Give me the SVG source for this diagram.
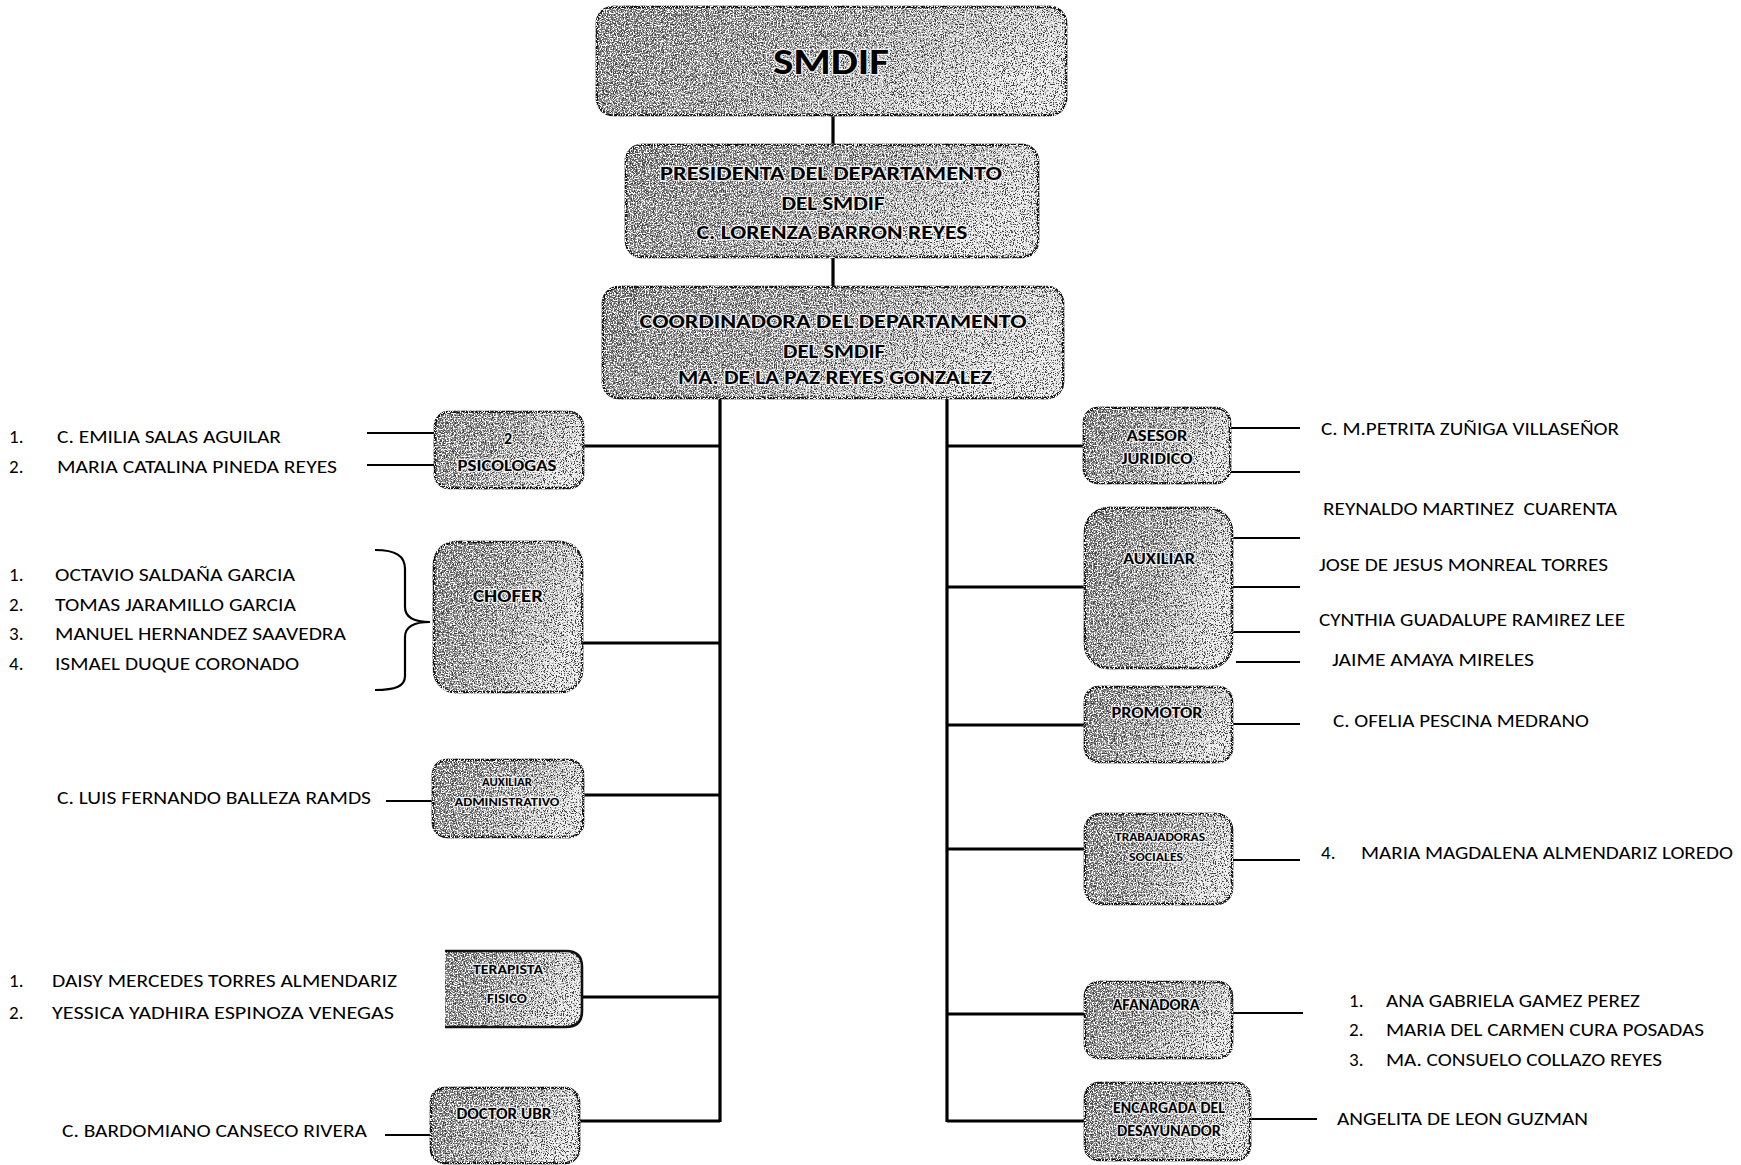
<svg xmlns="http://www.w3.org/2000/svg" width="1741" height="1165" viewBox="0 0 1741 1165">
<style>
.box{fill:url(#shade);stroke:#111;stroke-width:2.6;filter:url(#grain)}
.edge{fill:none;stroke:#111;stroke-width:2.6}
.lbl{font-family:Carlito,Lato,"Liberation Sans",sans-serif;font-weight:bold;fill:#000;text-anchor:middle;stroke:#fff;stroke-width:2.6;stroke-opacity:0.8;paint-order:stroke;stroke-linejoin:round}
.item{font-family:Carlito,Lato,"Liberation Sans",sans-serif;font-size:19px;fill:#000}
.main{stroke:#000;stroke-width:3.2;fill:none}
.sub{stroke:#000;stroke-width:2.2;fill:none}
</style>
<defs>
<linearGradient id="shade" x1="0" y1="0" x2="1" y2="0.35">
<stop offset="0" stop-color="#7c7c7c"/>
<stop offset="0.55" stop-color="#a2a2a2"/>
<stop offset="1" stop-color="#e4e4e4"/>
</linearGradient>
<filter id="grain" x="-2%" y="-2%" width="104%" height="104%">
<feTurbulence type="fractalNoise" baseFrequency="0.9" numOctaves="1" seed="4" result="n"/>
<feColorMatrix in="n" type="matrix" values="0 0 0 0 0.05  0 0 0 0 0.05  0 0 0 0 0.05  16 0 0 0 -8.2" result="d"/>
<feComposite in="d" in2="SourceAlpha" operator="in" result="di"/>
<feTurbulence type="fractalNoise" baseFrequency="0.75" numOctaves="1" seed="11" result="n2"/>
<feColorMatrix in="n2" type="matrix" values="0 0 0 0 1  0 0 0 0 1  0 0 0 0 1  0 16 0 0 -8.4" result="w"/>
<feComposite in="w" in2="SourceAlpha" operator="in" result="wi"/>
<feMerge><feMergeNode in="SourceGraphic"/><feMergeNode in="di"/><feMergeNode in="wi"/></feMerge>
</filter>
</defs>
<rect width="1741" height="1165" fill="#fff"/>

<g id="connectors">
<path class="main" d="M833,115 V145 M833,257 V287"/>
<path class="main" d="M720,398 V1122 M947,398 V1122"/>
<path class="main" d="M583,446 H720 M582,643 H720 M583,795 H720 M582,997 H720 M579,1121 H720"/>
<path class="main" d="M947,446 H1084 M947,587 H1085 M947,725 H1085 M947,849 H1085 M947,1014 H1085 M947,1121 H1085"/>
<path class="sub" d="M367,433 H435 M367,465 H435 M386,801 H432 M385,1135 H431"/>
<path class="sub" d="M1230,428 H1300 M1230,472 H1300 M1232,538 H1300 M1232,587 H1300 M1232,632 H1300 M1236,662 H1300 M1232,724 H1300 M1232,860 H1300 M1232,1013 H1303 M1250,1119 H1317"/>
<path class="sub" d="M375,550 C396,550 405,556 405,569 L405,607 C405,617 414,622 430,622 C414,622 405,627 405,637 L405,676 C405,686 396,690 375,690"/>
</g>

<g id="smdif">
<rect class="box" x="597" y="7" width="469" height="108" rx="16"/>
<text class="lbl" x="831" y="74" font-size="37" textLength="116" lengthAdjust="spacingAndGlyphs">SMDIF</text>
</g>
<g id="presidenta">
<rect class="box" x="626" y="145" width="412" height="112" rx="16"/>
<text class="lbl" x="831" y="180" font-size="20" textLength="342" lengthAdjust="spacingAndGlyphs">PRESIDENTA DEL DEPARTAMENTO</text>
<text class="lbl" x="833" y="210" font-size="20" textLength="103" lengthAdjust="spacingAndGlyphs">DEL SMDIF</text>
<text class="lbl" x="832" y="239" font-size="20" textLength="271" lengthAdjust="spacingAndGlyphs">C. LORENZA BARRON REYES</text>
</g>
<g id="coordinadora">
<rect class="box" x="603" y="287" width="460" height="111" rx="16"/>
<text class="lbl" x="833" y="328" font-size="20" textLength="387" lengthAdjust="spacingAndGlyphs">COORDINADORA DEL DEPARTAMENTO</text>
<text class="lbl" x="834" y="358" font-size="20" textLength="102" lengthAdjust="spacingAndGlyphs">DEL SMDIF</text>
<text class="lbl" x="835" y="384" font-size="20" textLength="314" lengthAdjust="spacingAndGlyphs">MA. DE LA PAZ REYES GONZALEZ</text>
</g>

<g id="psicologas">
<rect class="box" x="435" y="412" width="148" height="76" rx="14"/>
<text class="lbl" x="508" y="444" font-size="16">2</text>
<text class="lbl" x="507" y="471" font-size="16" textLength="99" lengthAdjust="spacingAndGlyphs">PSICOLOGAS</text>
</g>
<g id="chofer">
<rect class="box" x="434" y="542" width="148" height="150" rx="22"/>
<text class="lbl" x="508" y="602" font-size="19" textLength="70" lengthAdjust="spacingAndGlyphs">CHOFER</text>
</g>
<g id="aux-admin">
<rect class="box" x="433" y="760" width="150" height="77" rx="14"/>
<text class="lbl" x="507" y="786" font-size="12" textLength="50" lengthAdjust="spacingAndGlyphs">AUXILIAR</text>
<text class="lbl" x="507" y="806" font-size="12" textLength="105" lengthAdjust="spacingAndGlyphs">ADMINISTRATIVO</text>
</g>
<g id="terapista">
<path class="box" d="M445,951 H566 Q582,951 582,967 V1011 Q582,1027 566,1027 H445 Z" style="stroke:none"/>
<path class="edge" d="M445,951 H566 Q582,951 582,967 V1011 Q582,1027 566,1027 H445"/>
<text class="lbl" x="508" y="974" font-size="14" textLength="70" lengthAdjust="spacingAndGlyphs">TERAPISTA</text>
<text class="lbl" x="507" y="1003" font-size="14" textLength="40" lengthAdjust="spacingAndGlyphs">FISICO</text>
</g>
<g id="doctor">
<rect class="box" x="431" y="1088" width="148" height="75" rx="14"/>
<text class="lbl" x="504" y="1119" font-size="15" textLength="95" lengthAdjust="spacingAndGlyphs">DOCTOR UBR</text>
</g>

<g id="asesor">
<rect class="box" x="1084" y="408" width="146" height="75" rx="14"/>
<text class="lbl" x="1157" y="441" font-size="16" textLength="61" lengthAdjust="spacingAndGlyphs">ASESOR</text>
<text class="lbl" x="1157" y="464" font-size="16" textLength="71" lengthAdjust="spacingAndGlyphs">JURIDICO</text>
</g>
<g id="auxiliar">
<rect class="box" x="1085" y="508" width="147" height="160" rx="24"/>
<text class="lbl" x="1159" y="564" font-size="16" textLength="72" lengthAdjust="spacingAndGlyphs">AUXILIAR</text>
</g>
<g id="promotor">
<rect class="box" x="1085" y="687" width="147" height="75" rx="14"/>
<text class="lbl" x="1157" y="718" font-size="16" textLength="91" lengthAdjust="spacingAndGlyphs">PROMOTOR</text>
</g>
<g id="trabajadoras">
<rect class="box" x="1085" y="814" width="147" height="90" rx="16"/>
<text class="lbl" x="1160" y="841" font-size="12" textLength="90" lengthAdjust="spacingAndGlyphs">TRABAJADORAS</text>
<text class="lbl" x="1156" y="861" font-size="12" textLength="54" lengthAdjust="spacingAndGlyphs">SOCIALES</text>
</g>
<g id="afanadora">
<rect class="box" x="1085" y="982" width="147" height="76" rx="14"/>
<text class="lbl" x="1156" y="1010" font-size="16" textLength="87" lengthAdjust="spacingAndGlyphs">AFANADORA</text>
</g>
<g id="encargada">
<rect class="box" x="1085" y="1083" width="165" height="77" rx="14"/>
<text class="lbl" x="1169" y="1113" font-size="15" textLength="112" lengthAdjust="spacingAndGlyphs">ENCARGADA DEL</text>
<text class="lbl" x="1169" y="1136" font-size="15" textLength="104" lengthAdjust="spacingAndGlyphs">DESAYUNADOR</text>
</g>

<g id="left-names">
<text class="item" x="9" y="443">1.</text>
<text class="item" x="57" y="443" textLength="224" lengthAdjust="spacingAndGlyphs">C. EMILIA SALAS AGUILAR</text>
<text class="item" x="9" y="473">2.</text>
<text class="item" x="57" y="473" textLength="280" lengthAdjust="spacingAndGlyphs">MARIA CATALINA PINEDA REYES</text>
<text class="item" x="9" y="581">1.</text>
<text class="item" x="55" y="581" textLength="240" lengthAdjust="spacingAndGlyphs">OCTAVIO SALDAÑA GARCIA</text>
<text class="item" x="9" y="611">2.</text>
<text class="item" x="55" y="611" textLength="241" lengthAdjust="spacingAndGlyphs">TOMAS JARAMILLO GARCIA</text>
<text class="item" x="9" y="640">3.</text>
<text class="item" x="55" y="640" textLength="291" lengthAdjust="spacingAndGlyphs">MANUEL HERNANDEZ SAAVEDRA</text>
<text class="item" x="9" y="670">4.</text>
<text class="item" x="55" y="670" textLength="244" lengthAdjust="spacingAndGlyphs">ISMAEL DUQUE CORONADO</text>
<text class="item" x="57" y="804" textLength="314" lengthAdjust="spacingAndGlyphs">C. LUIS FERNANDO BALLEZA RAMDS</text>
<text class="item" x="9" y="987">1.</text>
<text class="item" x="52" y="987" textLength="345" lengthAdjust="spacingAndGlyphs">DAISY MERCEDES TORRES ALMENDARIZ</text>
<text class="item" x="9" y="1019">2.</text>
<text class="item" x="52" y="1019" textLength="342" lengthAdjust="spacingAndGlyphs">YESSICA YADHIRA ESPINOZA VENEGAS</text>
<text class="item" x="62" y="1137" textLength="305" lengthAdjust="spacingAndGlyphs">C. BARDOMIANO CANSECO RIVERA</text>
</g>

<g id="right-names">
<text class="item" x="1321" y="435" textLength="298" lengthAdjust="spacingAndGlyphs">C. M.PETRITA ZUÑIGA VILLASEÑOR</text>
<text class="item" x="1323" y="515" textLength="294" lengthAdjust="spacingAndGlyphs" xml:space="preserve">REYNALDO MARTINEZ  CUARENTA</text>
<text class="item" x="1319" y="571" textLength="289" lengthAdjust="spacingAndGlyphs">JOSE DE JESUS MONREAL TORRES</text>
<text class="item" x="1319" y="626" textLength="306" lengthAdjust="spacingAndGlyphs">CYNTHIA GUADALUPE RAMIREZ LEE</text>
<text class="item" x="1332" y="666" textLength="202" lengthAdjust="spacingAndGlyphs">JAIME AMAYA MIRELES</text>
<text class="item" x="1333" y="727" textLength="256" lengthAdjust="spacingAndGlyphs">C. OFELIA PESCINA MEDRANO</text>
<text class="item" x="1321" y="859">4.</text>
<text class="item" x="1361" y="859" textLength="372" lengthAdjust="spacingAndGlyphs">MARIA MAGDALENA ALMENDARIZ LOREDO</text>
<text class="item" x="1349" y="1007">1.</text>
<text class="item" x="1386" y="1007" textLength="254" lengthAdjust="spacingAndGlyphs">ANA GABRIELA GAMEZ PEREZ</text>
<text class="item" x="1349" y="1036">2.</text>
<text class="item" x="1386" y="1036" textLength="318" lengthAdjust="spacingAndGlyphs">MARIA DEL CARMEN CURA POSADAS</text>
<text class="item" x="1349" y="1066">3.</text>
<text class="item" x="1386" y="1066" textLength="276" lengthAdjust="spacingAndGlyphs">MA. CONSUELO COLLAZO REYES</text>
<text class="item" x="1337" y="1125" textLength="251" lengthAdjust="spacingAndGlyphs">ANGELITA DE LEON GUZMAN</text>
</g>
</svg>
